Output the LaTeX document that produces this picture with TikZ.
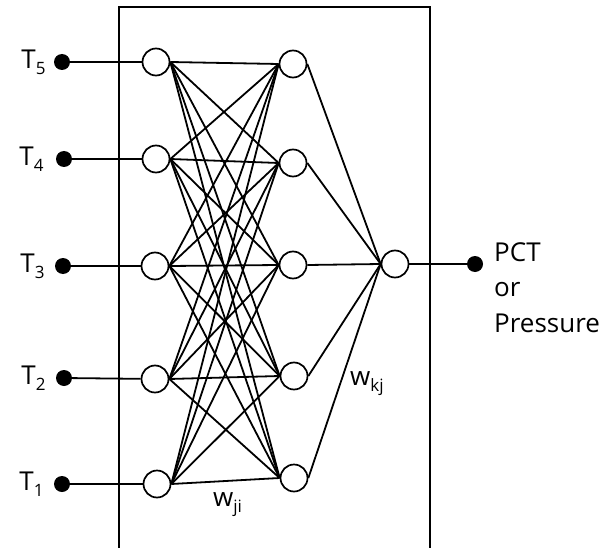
\documentclass[tikz,border=0pt]{standalone}
\usepackage{fontspec}
\setmainfont{Open Sans}
\usetikzlibrary{positioning}
\newcommand{\low}[1]{\raisebox{-6pt}{\fontsize{17}{17}\selectfont #1}}
\tikzset{
  neuron/.style={
    circle,
    draw=black,
    line width=1.7pt,
    minimum size=27pt,
    inner sep=0pt
  },
  port/.style={
    circle,
    fill=black,
    minimum size=16pt,
    inner sep=0pt
  },
  link/.style={
    draw=black,
    line width=1.8pt
  },
  frame/.style={
    draw=black,
    line width=2.2pt
  },
  tag/.style={
    text=black,
    inner sep=0pt,
    font=\fontsize{26}{35.5}\selectfont
  }
}

\begin{document}
\begin{tikzpicture}[x=1pt, y=-1pt]
  \useasboundingbox (0,0) rectangle (599,548);

  % box, open at the bottom
  \draw[frame] (119,548) -- (119,7) -- (430,7) -- (430,548);

  % inputs
  \node[port] (src5) at (62,62) {};
  \node[port] (src4) at (64,159) {};
  \node[port] (src3) at (63,266) {};
  \node[port] (src2) at (64,378) {};
  \node[port] (src1) at (62,484) {};
  \node[tag, left=8pt of src5] (t5) {T\low{5}};
  \node[tag, left=12pt of src4] (t4) {T\low{4}};
  \node[tag, left=10pt of src3] (t3) {T\low{3}};
  \node[tag, left=10pt of src2] (t2) {T\low{2}};
  \node[tag, left=10pt of src1] (t1) {T\low{1}};

  % layers
  \node[neuron] (in5) at (156,62) {};
  \node[neuron] (in4) at (156,159) {};
  \node[neuron] (in3) at (155,266) {};
  \node[neuron] (in2) at (155,379) {};
  \node[neuron] (in1) at (157,484) {};
  \node[neuron] (hid5) at (293,64) {};
  \node[neuron] (hid4) at (293,163) {};
  \node[neuron] (hid3) at (293,265) {};
  \node[neuron] (hid2) at (294,376) {};
  \node[neuron] (hid1) at (294,478) {};
  \node[neuron] (out) at (395,264) {};

  % output
  \node[port] (sink) at (475,264) {};
  \node[tag, align=left, anchor=north west] (target) at (494,242)
    {PCT\\or\\Pressure};

  % weights
  \node[tag, anchor=base west] (wji) at (213,506) {w\low{ji}};
  \node[tag, anchor=base west] (wkj) at (350,385) {w\low{kj}};

  \foreach \i in {1,...,5} {
    \draw[link] (src\i) -- (in\i);
    \draw[link] (hid\i.east) -- (out.west);
    \foreach \j in {1,...,5}
      \draw[link] (in\i.east) -- (hid\j.west);
  }
  \draw[link] (out) -- (sink);
\end{tikzpicture}
\end{document}
